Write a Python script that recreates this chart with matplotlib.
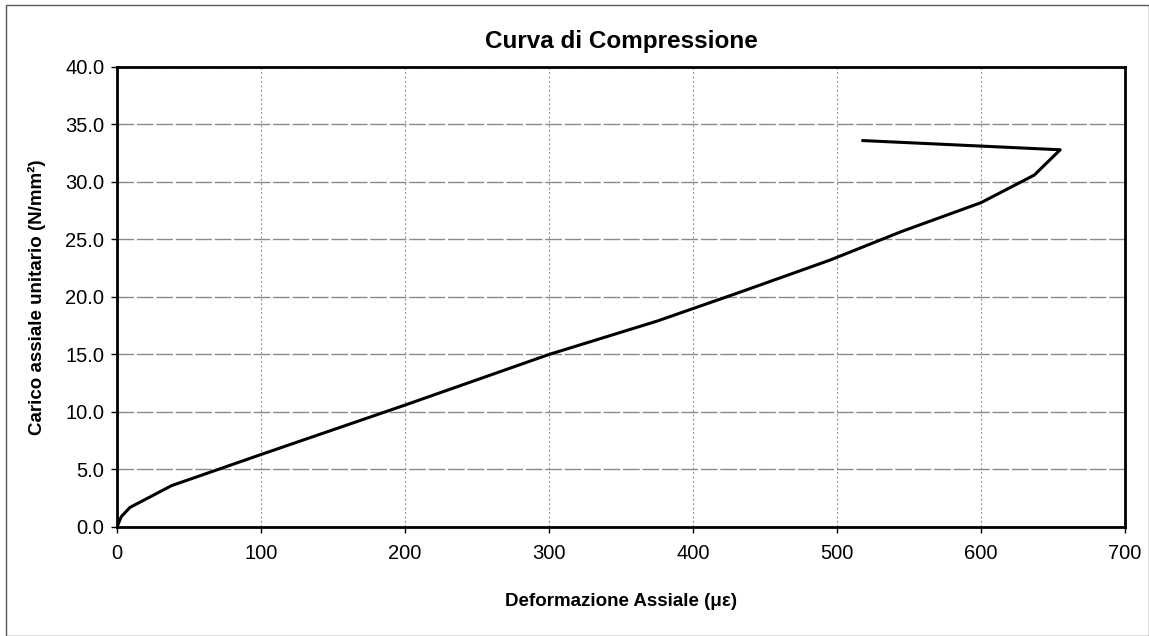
import numpy as np
import matplotlib.pyplot as plt
from matplotlib.patches import Rectangle

plt.rcParams['font.family'] = ['Liberation Sans', 'DejaVu Sans']

# deformazione assiale (micro-strain) and carico assiale unitario (N/mm2)
deformazione = [0, 3, 9, 38, 100, 200, 300, 375, 430, 495, 545, 600, 637, 655, 518]
carico = [0.0, 0.9, 1.7, 3.6, 6.3, 10.6, 15.0, 17.9, 20.3, 23.2, 25.7, 28.2, 30.6, 32.8, 33.6]

x_ticks = [0, 100, 200, 300, 400, 500, 600, 700]
y_ticks = [0, 5, 10, 15, 20, 25, 30, 35, 40]

fig = plt.figure(figsize=(11.49, 6.36), dpi=100)
ax = fig.add_axes([0.1018, 0.1714, 0.8773, 0.7233])

ax.plot(deformazione, carico, color='black', lw=2.2, zorder=3)

ax.set_xlim(0, 700)
ax.set_ylim(0, 40)
ax.set_xticks(x_ticks)
ax.set_yticks(y_ticks)
ax.set_yticklabels(['%.1f' % v for v in y_ticks])
ax.tick_params(labelsize=14.5, length=4, width=1, direction='out', pad=5)
ax.tick_params(axis='x', pad=8)

ax.yaxis.grid(True, color='#8a8a8a', lw=1.0, linestyle=(0, (12, 2)))
ax.xaxis.grid(True, color='#9a9a9a', lw=0.8, linestyle=(0, (2, 2)))
ax.set_axisbelow(True)
for s in ax.spines.values():
    s.set_linewidth(2.0)
    s.set_color('black')

ax.set_title('Curva di Compressione', fontsize=17.5, fontweight='bold', pad=14)
ax.set_xlabel('Deformazione Assiale (\u03bc\u03b5)', fontsize=13.5, fontweight='bold', labelpad=22)
ax.set_ylabel('Carico assiale unitario (N/mm\u00b2)', fontsize=13.5, fontweight='bold', labelpad=14)

# outer frame of the chart area
fig.patches.append(Rectangle((0.005, 0.0), 0.995, 0.992, transform=fig.transFigure,
                             fill=False, edgecolor='#555555', lw=1.0))

fig.savefig('out.png', dpi=100)
